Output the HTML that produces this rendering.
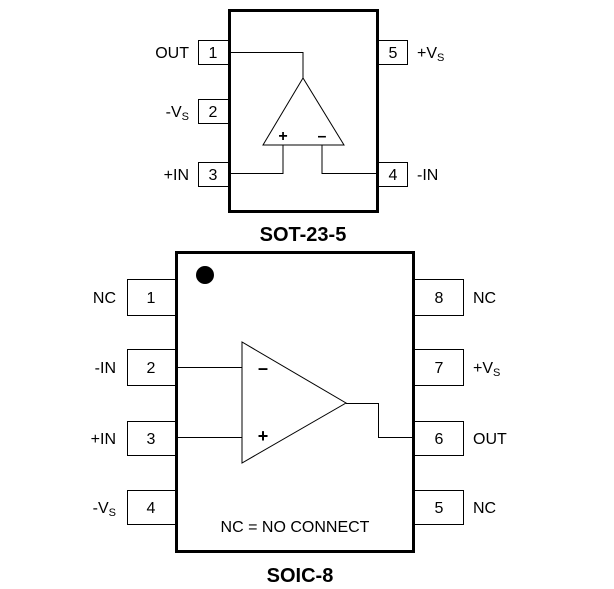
<!DOCTYPE html>
<html><head><meta charset="utf-8"><style>
html,body{margin:0;padding:0;background:#fff;}
svg{display:block;}
text{font-family:"Liberation Sans",Arial,sans-serif;font-size:16px;fill:#000;}
.b{font-weight:bold;font-size:20px;}
.s{font-size:11px;}
</style></head><body>
<svg width="614" height="589" viewBox="0 0 614 589" xmlns="http://www.w3.org/2000/svg">
<g fill="#fff" stroke="#000" stroke-width="1">
<rect x="198.5" y="40.5" width="30" height="24"/>
<rect x="198.5" y="99.5" width="30" height="24"/>
<rect x="198.5" y="162.5" width="30" height="24"/>
<rect x="378.5" y="40.5" width="29" height="24"/>
<rect x="378.5" y="162.5" width="29" height="24"/>
<rect x="127.5" y="279.5" width="48" height="36"/>
<rect x="127.5" y="349.5" width="48" height="36"/>
<rect x="127.5" y="421.5" width="48" height="34"/>
<rect x="127.5" y="490.5" width="48" height="34"/>
<rect x="414.5" y="279.5" width="49" height="36"/>
<rect x="414.5" y="349.5" width="49" height="36"/>
<rect x="414.5" y="421.5" width="49" height="34"/>
<rect x="414.5" y="490.5" width="49" height="34"/>
</g>
<rect x="229.5" y="10.5" width="148" height="201" fill="none" stroke="#000" stroke-width="3"/>
<rect x="176.5" y="252.5" width="237" height="299" fill="none" stroke="#000" stroke-width="3"/>
<g fill="none" stroke="#000" stroke-width="1">
<polygon points="303,78 263,145 344,145"/>
<polyline points="231,52.5 303,52.5 303,78"/>
<polyline points="283,145 283,173.5 231,173.5"/>
<polyline points="322,145 322,173.5 377,173.5"/>
<polygon points="242,342 242,463 346,403"/>
<line x1="178" y1="367.5" x2="242" y2="367.5"/>
<line x1="178" y1="437.5" x2="242" y2="437.5"/>
<polyline points="346,403.5 378.5,403.5 378.5,437.5 413,437.5"/>
</g>
<circle cx="205" cy="275" r="9" fill="#000"/>
<text x="213" y="58" text-anchor="middle">1</text>
<text x="213" y="117" text-anchor="middle">2</text>
<text x="213" y="180" text-anchor="middle">3</text>
<text x="393" y="58" text-anchor="middle">5</text>
<text x="393" y="180" text-anchor="middle">4</text>
<text x="189" y="58" text-anchor="end">OUT</text>
<text x="189" y="117" text-anchor="end">-V<tspan class="s" dy="3">S</tspan></text>
<text x="189" y="180" text-anchor="end">+IN</text>
<text x="417" y="58">+V<tspan class="s" dy="3">S</tspan></text>
<text x="417" y="180">-IN</text>
<text x="283" y="141" text-anchor="middle" style="font-weight:bold">+</text>
<text x="322" y="141" text-anchor="middle" style="font-weight:bold">–</text>
<text x="303" y="241" text-anchor="middle" class="b">SOT-23-5</text>
<text x="151" y="303" text-anchor="middle">1</text>
<text x="151" y="373" text-anchor="middle">2</text>
<text x="151" y="444" text-anchor="middle">3</text>
<text x="151" y="513" text-anchor="middle">4</text>
<text x="439" y="303" text-anchor="middle">8</text>
<text x="439" y="373" text-anchor="middle">7</text>
<text x="439" y="444" text-anchor="middle">6</text>
<text x="439" y="513" text-anchor="middle">5</text>
<text x="116" y="303" text-anchor="end">NC</text>
<text x="116" y="373" text-anchor="end">-IN</text>
<text x="116" y="444" text-anchor="end">+IN</text>
<text x="116" y="513" text-anchor="end">-V<tspan class="s" dy="3">S</tspan></text>
<text x="473" y="303">NC</text>
<text x="473" y="373">+V<tspan class="s" dy="3">S</tspan></text>
<text x="473" y="444">OUT</text>
<text x="473" y="513">NC</text>
<text x="263" y="374" text-anchor="middle" style="font-weight:bold;font-size:18px">–</text>
<text x="263" y="442" text-anchor="middle" style="font-weight:bold;font-size:18px">+</text>
<text x="295" y="532" text-anchor="middle">NC = NO CONNECT</text>
<text x="300" y="582" text-anchor="middle" class="b">SOIC-8</text>
</svg>
</body></html>
